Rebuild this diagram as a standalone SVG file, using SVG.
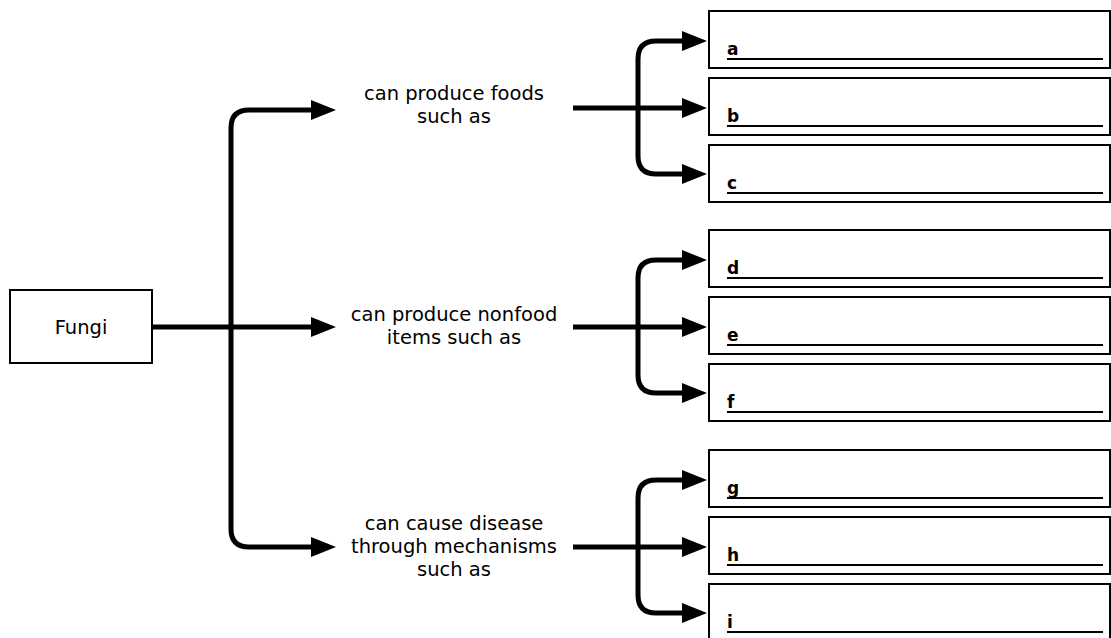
<svg xmlns="http://www.w3.org/2000/svg" width="1111" height="638" viewBox="0 0 1111 638">
<style>
.box{fill:#fff;stroke:#000;stroke-width:2}
.conn{fill:none;stroke:#000;stroke-width:5}
.ul{stroke:#000;stroke-width:2}
.lbl{font-family:"DejaVu Sans","Noto Sans",sans-serif;font-size:19.5px;fill:#000;text-anchor:middle}
.let{font-family:"DejaVu Sans","Noto Sans",sans-serif;font-size:17px;font-weight:bold;fill:#000}
</style>
<defs>
<marker id="ah" markerUnits="userSpaceOnUse" markerWidth="26" markerHeight="22" refX="13" refY="11" orient="auto-start-reverse">
<path d="M0,1 L25,11 L0,21 Z" fill="#000"/>
</marker>
</defs>
<rect width="1111" height="638" fill="#fff"/>
<g id="connectors">
<path class="conn" d="M152,327 H324" marker-end="url(#ah)"/>
<path class="conn" d="M324,110 H249 Q231,110 231,128 V529 Q231,547 249,547 H324" marker-start="url(#ah)" marker-end="url(#ah)"/>
<path class="conn" d="M573,108 H695" marker-end="url(#ah)"/>
<path class="conn" d="M695,41 H656 Q638,41 638,59 V156 Q638,174 656,174 H695" marker-start="url(#ah)" marker-end="url(#ah)"/>
<path class="conn" d="M573,327 H695" marker-end="url(#ah)"/>
<path class="conn" d="M695,260 H656 Q638,260 638,278 V375 Q638,393 656,393 H695" marker-start="url(#ah)" marker-end="url(#ah)"/>
<path class="conn" d="M573,547 H695" marker-end="url(#ah)"/>
<path class="conn" d="M695,480 H656 Q638,480 638,498 V595 Q638,613 656,613 H695" marker-start="url(#ah)" marker-end="url(#ah)"/>
</g>
<g id="fungi">
<rect class="box" x="10" y="290" width="142" height="73"/>
<text class="lbl" x="81" y="334">Fungi</text>
</g>
<g id="foods">
<text class="lbl" x="454" y="100">can produce foods<tspan x="454" dy="23">such as</tspan></text>
</g>
<g id="nonfood">
<text class="lbl" x="454" y="321">can produce nonfood<tspan x="454" dy="23">items such as</tspan></text>
</g>
<g id="disease">
<text class="lbl" x="454" y="530">can cause disease<tspan x="454" dy="23">through mechanisms</tspan><tspan x="454" dy="23">such as</tspan></text>
</g>
<g id="box-a"><rect class="box" x="709" y="11" width="401" height="57"/><text class="let" x="727" y="55">a</text><line class="ul" x1="727" y1="59" x2="1103" y2="59"/></g>
<g id="box-b"><rect class="box" x="709" y="78" width="401" height="57"/><text class="let" x="727" y="122">b</text><line class="ul" x1="727" y1="126" x2="1103" y2="126"/></g>
<g id="box-c"><rect class="box" x="709" y="145" width="401" height="57"/><text class="let" x="727" y="189">c</text><line class="ul" x1="727" y1="193" x2="1103" y2="193"/></g>
<g id="box-d"><rect class="box" x="709" y="230" width="401" height="57"/><text class="let" x="727" y="274">d</text><line class="ul" x1="727" y1="278" x2="1103" y2="278"/></g>
<g id="box-e"><rect class="box" x="709" y="297" width="401" height="57"/><text class="let" x="727" y="341">e</text><line class="ul" x1="727" y1="345" x2="1103" y2="345"/></g>
<g id="box-f"><rect class="box" x="709" y="364" width="401" height="57"/><text class="let" x="727" y="408">f</text><line class="ul" x1="727" y1="412" x2="1103" y2="412"/></g>
<g id="box-g"><rect class="box" x="709" y="450" width="401" height="57"/><text class="let" x="727" y="494">g</text><line class="ul" x1="727" y1="498" x2="1103" y2="498"/></g>
<g id="box-h"><rect class="box" x="709" y="517" width="401" height="57"/><text class="let" x="727" y="561">h</text><line class="ul" x1="727" y1="565" x2="1103" y2="565"/></g>
<g id="box-i"><rect class="box" x="709" y="584" width="401" height="57"/><text class="let" x="727" y="628">i</text><line class="ul" x1="727" y1="632" x2="1103" y2="632"/></g>
</svg>
